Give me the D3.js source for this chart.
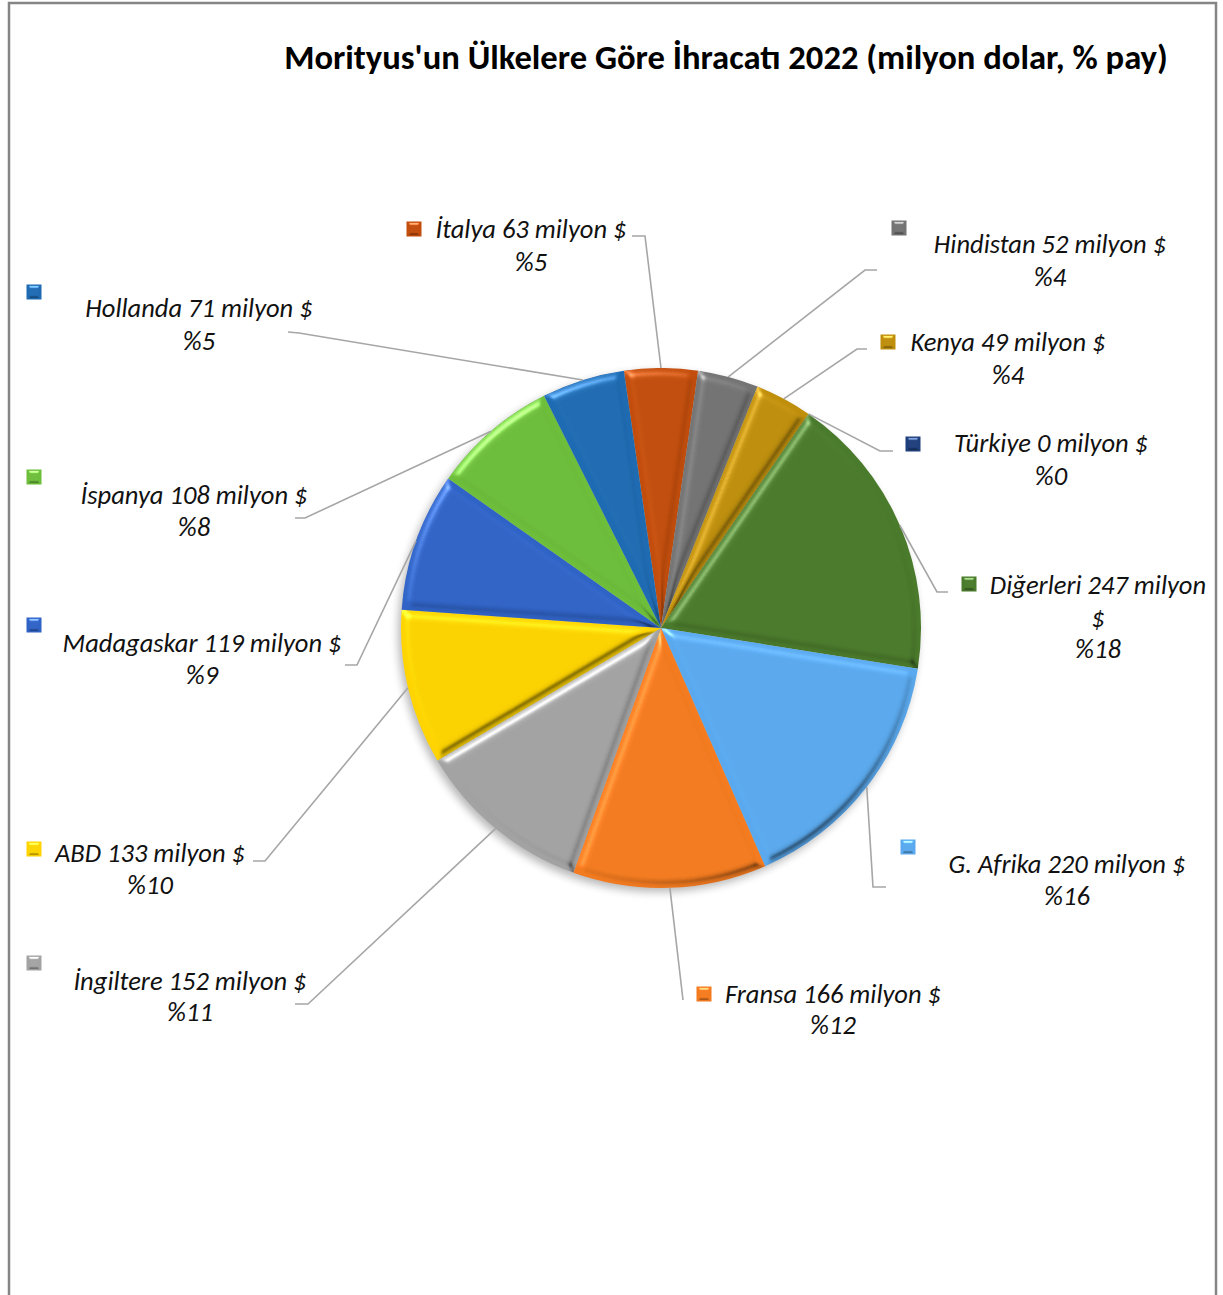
<!DOCTYPE html>
<html><head><meta charset="utf-8">
<script src="https://cdn.jsdelivr.net/npm/d3@7"></script>
<style>body{margin:0;background:#fff} svg{display:block}</style>
</head><body>
<svg id="c" width="1223" height="1295">
<defs>
  <filter id="bevel" x="-10%" y="-10%" width="120%" height="120%" color-interpolation-filters="sRGB">
    <feGaussianBlur in="SourceAlpha" stdDeviation="4" result="b"/>
    <feSpecularLighting in="b" surfaceScale="5" specularConstant="0.8" specularExponent="28" lighting-color="#ffffff" result="hl">
      <feDistantLight azimuth="235" elevation="35"/>
    </feSpecularLighting>
    <feComposite in="hl" in2="SourceAlpha" operator="in" result="hlIn"/>
    <feSpecularLighting in="b" surfaceScale="5" specularConstant="0.9" specularExponent="28" lighting-color="#ffffff" result="sh">
      <feDistantLight azimuth="55" elevation="35"/>
    </feSpecularLighting>
    <feComposite in="sh" in2="SourceAlpha" operator="in" result="shIn"/>
    <feComposite in="SourceGraphic" in2="hlIn" operator="arithmetic" k1="0" k2="1" k3="0.45" k4="0" result="lit"/>
    <feFlood flood-color="#000" flood-opacity="0.5" result="blk"/>
    <feComposite in="blk" in2="shIn" operator="in" result="shBlk"/>
    <feComposite in="shBlk" in2="lit" operator="atop"/>
  </filter>
  <filter id="bevelSmall" x="-20%" y="-20%" width="140%" height="140%" color-interpolation-filters="sRGB">
    <feGaussianBlur in="SourceAlpha" stdDeviation="1.5" result="b"/>
    <feSpecularLighting in="b" surfaceScale="3" specularConstant="0.9" specularExponent="30" lighting-color="#ffffff" result="hl">
      <feDistantLight azimuth="270" elevation="35"/>
    </feSpecularLighting>
    <feComposite in="hl" in2="SourceAlpha" operator="in" result="hlIn"/>
    <feSpecularLighting in="b" surfaceScale="3" specularConstant="0.9" specularExponent="30" lighting-color="#ffffff" result="sh">
      <feDistantLight azimuth="90" elevation="35"/>
    </feSpecularLighting>
    <feComposite in="sh" in2="SourceAlpha" operator="in" result="shIn"/>
    <feComposite in="SourceGraphic" in2="hlIn" operator="arithmetic" k1="0" k2="1" k3="0.6" k4="0" result="lit"/>
    <feFlood flood-color="#000" flood-opacity="0.45" result="blk"/>
    <feComposite in="blk" in2="shIn" operator="in" result="shBlk"/>
    <feComposite in="shBlk" in2="lit" operator="atop"/>
  </filter>
  <filter id="blur" x="-20%" y="-20%" width="140%" height="140%">
    <feGaussianBlur stdDeviation="4"/>
  </filter>
</defs>
</svg>
<script>
// ---- data ----
const countries = ["İtalya","Hindistan","Kenya","Türkiye","Diğerleri","G. Afrika","Fransa","İngiltere","ABD","Madagaskar","İspanya","Hollanda"];
const values    = [63, 52, 49, 0, 247, 220, 166, 152, 133, 119, 108, 71];
const shares    = [5, 4, 4, 0, 18, 16, 12, 11, 10, 9, 8, 5];
const unit = "milyon $";
const title = "Morityus'un Ülkelere Göre İhracatı 2022 (milyon dolar, % pay)";

// ---- style / layout ----
const colors = ["#C24D0C","#737373","#BF8F0C","#1F3F7C","#4A7A2B","#5AA9EE","#F47B1F","#A3A3A3","#FFD400","#3063C6","#6DBE3B","#1F6BB3"];
const cx = 661, cy = 628, R = 260;
const firstSliceAngleDeg = -8.22;
const labelLayout = [
  {mk:[414,229], x:531,  y:[229,262],     w:194, elbow:[645,236], end:[632,236]},
  {mk:[899,228], x:1050, y:[244,277],     w:232, elbow:[865,270], end:[877,270]},
  {mk:[888,342], x:1008, y:[342,375],     w:195, elbow:[857,349], end:[867,349]},
  {mk:[913,444], x:1051, y:[443,476],     w:194, elbow:[880,451], end:[893,451]},
  {mk:[969,584], x:1098, y:[585,618,649], w:215, elbow:[937,592], end:[948,592], wrap:true},
  {mk:[908,847], x:1067, y:[864,896],     w:237, elbow:[873,887], end:[886,887]},
  {mk:[704,994], x:833,  y:[994,1025],    w:215, elbow:[683,1000], end:[683,1000]},
  {mk:[34,963],  x:190,  y:[981,1012],    w:232, elbow:[308,1004], end:[295,1004]},
  {mk:[34,849],  x:150,  y:[853,885],     w:192, elbow:[265,861], end:[253,861]},
  {mk:[34,625],  x:202,  y:[643,675],     w:279, elbow:[357,665], end:[345,665]},
  {mk:[34,477],  x:194,  y:[495,527],     w:227, elbow:[305,518], end:[295,518]},
  {mk:[34,292],  x:199,  y:[308,341],     w:227, elbow:[299,333], end:[288,332]}
];
const fontFam = "Carlito, Calibri, Lato, 'Open Sans', sans-serif";

const svg = d3.select("#c");

// frame
svg.append("rect").attr("x",9).attr("y",3).attr("width",1207).attr("height",1400)
  .attr("fill","none").attr("stroke","#858585").attr("stroke-width",2.5);

// title
const tt = svg.append("text").attr("x",726).attr("y",57).attr("dy","0.35em")
  .attr("text-anchor","middle").attr("font-family",fontFam).attr("font-weight","bold")
  .attr("font-size",29).attr("fill","#000").text(title);
{
  const len = tt.node().getComputedTextLength();
  tt.attr("font-size", 29 * 884 / len);
}

const toRad = Math.PI/180;
const a0 = firstSliceAngleDeg*toRad;
const pie = d3.pie().sort(null).value(d => d.v).startAngle(a0).endAngle(a0 + 2*Math.PI);
const data = countries.map((c,i) => ({name:c, v:values[i], share:shares[i], i}));
const arcs = pie(data);
const arc = d3.arc().innerRadius(0).outerRadius(R);
const edge = d3.arc().innerRadius(R).outerRadius(R);

const g = svg.append("g").attr("transform",`translate(${cx},${cy})`);
// soft shadow under pie
g.append("circle").attr("cx",-3).attr("cy",4).attr("r",R).attr("fill","#000")
  .attr("opacity",0.28).attr("filter","url(#blur)");
g.selectAll("path.slice").data(arcs.filter(d=>d.data.v>0)).join("path")
  .attr("class","slice").attr("d",arc).attr("fill",d=>colors[d.data.i])
  .attr("filter","url(#bevel)");

// leader lines
const lg = svg.append("g").attr("fill","none").attr("stroke","#A6A6A6").attr("stroke-width",1.6);
arcs.forEach(d => {
  const L = labelLayout[d.data.i];
  const p = edge.centroid(d);
  const pts = [[cx+p[0], cy+p[1]], L.elbow, L.end];
  lg.append("path").attr("d", d3.line()(pts));
});

// labels
const labG = svg.append("g").attr("font-family",fontFam).attr("font-style","italic").attr("fill","#111");
const texts = [];
arcs.forEach(d => {
  const L = labelLayout[d.data.i];
  const i = d.data.i;
  let l1 = `${d.data.name} ${d.data.v} ${unit}`;
  let lines;
  if (L.wrap) {
    const k = l1.lastIndexOf(" ");
    lines = [l1.slice(0,k), l1.slice(k+1), `%${d.data.share}`];
  } else lines = [l1, `%${d.data.share}`];
  lines.forEach((s,j) => {
    const t = labG.append("text").attr("x",L.x).attr("y",L.y[j]).attr("dy","0.35em")
      .attr("text-anchor","middle").attr("font-size",22).text(s);
    if (j===0) texts.push({t, w:L.w});
  });
  svg.append("rect").attr("x",L.mk[0]-7.5).attr("y",L.mk[1]-7.5).attr("width",15).attr("height",15)
    .attr("fill",colors[i]).attr("filter","url(#bevelSmall)");
});
// uniform font-size fit to reference line widths
let sumT = 0, sumM = 0;
texts.forEach(o => { sumT += o.w; sumM += o.t.node().getComputedTextLength(); });
labG.selectAll("text").attr("font-size", 22 * sumT / sumM);
</script>
</body></html>
